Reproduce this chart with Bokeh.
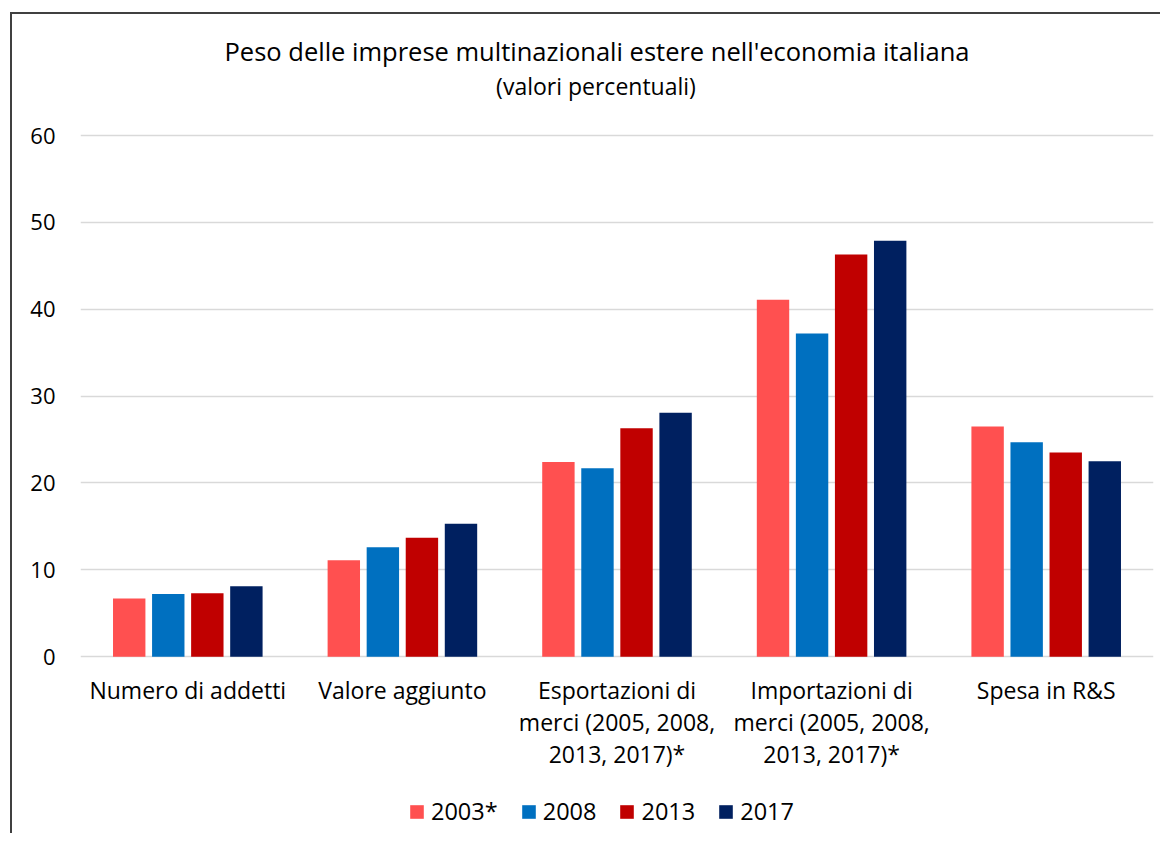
from bokeh.plotting import figure
from bokeh.models import FactorRange, Range1d, Legend, LegendItem, FixedTicker, ColumnDataSource, Label
from bokeh.transform import dodge
from bokeh.embed import file_html
from bokeh.resources import INLINE

# ---- data ----
categories = [
    "Numero di addetti",
    "Valore aggiunto",
    "Esportazioni di\nmerci (2005, 2008,\n2013, 2017)*",
    "Importazioni di\nmerci (2005, 2008,\n2013, 2017)*",
    "Spesa in R&S",
]
series = ["2003*", "2008", "2013", "2017"]
v2003 = [6.7, 11.1, 22.4, 41.1, 26.5]
v2008 = [7.2, 12.6, 21.7, 37.2, 24.7]
v2013 = [7.3, 13.7, 26.3, 46.3, 23.5]
v2017 = [8.1, 15.3, 28.1, 47.9, 22.5]
y_ticks = [0, 10, 20, 30, 40, 50, 60]
title_text = "Peso delle imprese multinazionali estere nell'economia italiana"
subtitle_text = "(valori percentuali)"

colors = ["#FF5050", "#0070C0", "#C00000", "#002060"]
FONT = "Open Sans"

src = ColumnDataSource(dict(cat=categories, s0=v2003, s1=v2008, s2=v2013, s3=v2017))

# the plot frame covers the whole height so titles, category labels and legend sit inside it
p = figure(
    x_range=FactorRange(*categories, range_padding=0),
    y_range=Range1d(-20.6, 73.95),
    width=1150, height=821,
    output_backend="svg", toolbar_location=None,
    min_border_left=68, min_border_right=9, min_border_top=0, min_border_bottom=0,
)
p.margin = (12, 0, 0, 10)
p.styles = {"border-top": "2px solid #404040", "border-left": "2px solid #404040"}
p.outline_line_color = None
p.background_fill_color = "white"
p.border_fill_color = "white"

offsets = [-0.273, -0.091, 0.091, 0.273]
renderers = []
for i, (col, c) in enumerate(zip(["s0", "s1", "s2", "s3"], colors)):
    r = p.vbar(x=dodge("cat", offsets[i], range=p.x_range), top=col, bottom=0, width=0.151,
               source=src, fill_color=c, line_color=None)
    renderers.append(r)

# axes
p.yaxis.ticker = FixedTicker(ticks=y_ticks)
p.yaxis.axis_line_color = None
p.yaxis.major_tick_line_color = None
p.yaxis.minor_tick_line_color = None
p.yaxis.major_label_standoff = 19
p.yaxis.major_label_text_font = FONT
p.yaxis.major_label_text_font_size = "22px"
p.yaxis.major_label_text_color = "#000000"

p.xaxis.fixed_location = 0
p.xaxis.axis_line_color = None
p.xaxis.major_tick_line_color = None
p.xaxis.minor_tick_line_color = None
p.xaxis.major_label_standoff = 11
p.xaxis.major_label_text_font = FONT
p.xaxis.major_label_text_font_size = "23px"
p.xaxis.major_label_text_color = "#000000"
p.xaxis.major_label_text_line_height = 1.0

p.xgrid.grid_line_color = None
p.ygrid.grid_line_color = "#D9D9D9"
p.ygrid.grid_line_width = 1.5

# titles (centred on the chart box, slightly left of the plot-area centre)
p.add_layout(Label(x=2.5, y=69.8, x_offset=-20, text=title_text,
                   text_align="center", text_baseline="alphabetic",
                   text_font=FONT, text_font_size="25.5px", text_color="#000000"))
p.add_layout(Label(x=2.5, y=65.75, x_offset=-21, text=subtitle_text,
                   text_align="center", text_baseline="alphabetic",
                   text_font=FONT, text_font_size="23px", text_color="#000000"))

legend = Legend(
    items=[LegendItem(label=s, renderers=[r]) for s, r in zip(series, renderers)],
    orientation="horizontal", location=(328, 8),
    glyph_width=17, glyph_height=17, label_standoff=6, spacing=22,
    padding=0, margin=0, border_line_color=None, background_fill_alpha=0,
    label_text_font=FONT, label_text_font_size="23.5px", label_text_color="#000000",
)
p.add_layout(legend, "center")

open("out.html", "w").write(file_html(p, INLINE))
